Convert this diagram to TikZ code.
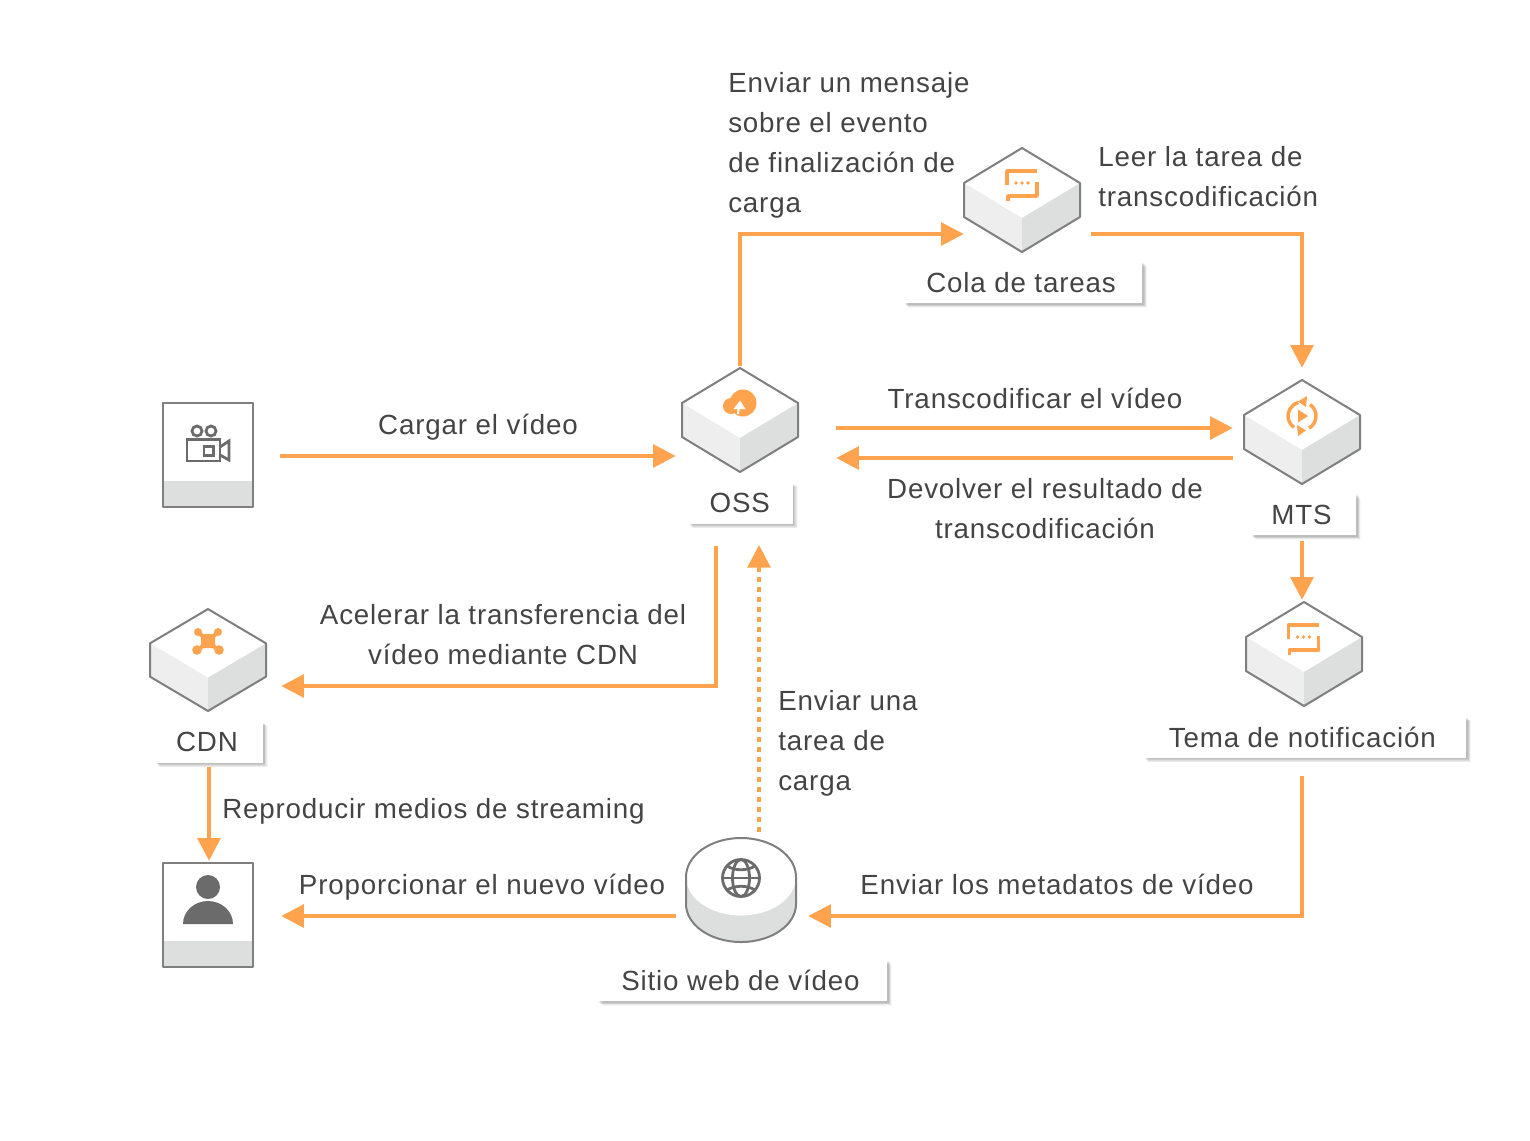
\documentclass[tikz,border=0pt]{standalone}
\usepackage{fontspec}
\setmainfont[LetterSpace=3]{Liberation Sans}
\usetikzlibrary{arrows.meta,calc,shadows}
\definecolor{flowc}{HTML}{FFA34F}
\definecolor{edgec}{HTML}{7F7F7F}
\definecolor{iconc}{HTML}{6B6B6B}
\definecolor{txtc}{HTML}{444444}
\definecolor{leftc}{HTML}{EEEEEE}
\definecolor{rightc}{HTML}{DDDFDE}
\newcommand\lblfont{\fontsize{20.8pt}{30pt}\selectfont}
\tikzset{
  x=0.75pt,y=-0.75pt,
  flow/.style={draw=flowc,line width=3pt,-{Triangle[length=17pt,width=17pt]}},
  flowdash/.style={flow,dash pattern=on 3.5pt off 4pt},
  txt/.style={font=\lblfont,text=txtc,inner sep=0pt},
  txtl/.style={txt,align=left,anchor=west},
  txtc/.style={txt,align=center},
  holder/.style={inner sep=0pt,draw=none,fill=none},
  outline/.style={draw=edgec,line width=1.5pt,line join=round},
  iconline/.style={draw=iconc,line width=2.1pt,line join=miter},
  orangeline/.style={draw=flowc,line width=2.6pt,line cap=round,line join=round},
  labelbox/.style={txt,fill=white,inner sep=0pt,
    drop shadow={shadow xshift=3.6pt,shadow yshift=-3.6pt,fill=black,opacity=.03},
    drop shadow={shadow xshift=3pt,shadow yshift=-3pt,fill=black,opacity=.05},
    drop shadow={shadow xshift=2.4pt,shadow yshift=-2.4pt,fill=black,opacity=.06},
    drop shadow={shadow xshift=1.8pt,shadow yshift=-1.8pt,fill=black,opacity=.07},
    drop shadow={shadow xshift=1.2pt,shadow yshift=-1.2pt,fill=black,opacity=.07}},
}
% cube: name, x, y (centre), vertical scale
\newcommand\cubeshape[4]{%
  \node[holder,minimum width=87pt,minimum height={78pt*#4}] (#1) at (#2,#3) {};
  \begin{scope}[shift={(#2,#3)},yscale=#4]
    \fill[leftc] (-58,-17)--(0,18)--(0,52)--(-58,17)--cycle;
    \fill[rightc] (58,-17)--(0,18)--(0,52)--(58,17)--cycle;
    \draw[outline] (0,-52)--(58,-17)--(58,17)--(0,52)--(-58,17)--(-58,-17)--cycle;
  \end{scope}}
\newcommand\chaticon[2]{%
  \begin{scope}[shift={(#1,#2)}]
    \draw[orangeline,line cap=butt] (-15,-15)--(-15,-29)--(15,-29);
    \draw[orangeline,line cap=butt] (15,-18)--(15,-4)--(-14,-4)--(-14,1);
    \fill[flowc] (-6,-17) circle[radius=1.9] (0,-17) circle[radius=1.9] (6,-17) circle[radius=1.9];
  \end{scope}}
\newcommand\cardshape[3]{%
  \node[holder,minimum width=67.5pt,minimum height=78pt] (#1) at (#2,#3) {};
  \begin{scope}[shift={(#2,#3)}]
    \fill[white] (-45,-52) rectangle (45,52);
    \fill[rightc] (-45,26) rectangle (45,52);
    \draw[outline] (-45,-52) rectangle (45,52);
  \end{scope}}
\begin{document}
\begin{tikzpicture}
\useasboundingbox (0,0) rectangle (1530,1140);
\fill[white] (0,0) rectangle (1530,1140);

% cards
\cardshape{video}{208}{455}
\draw[iconline] (197,431) circle[radius=5] (211,431) circle[radius=5];
\draw[iconline] (187,439.5) rectangle (220,461);
\draw[iconline] (204,446.5) rectangle (213.5,455.5);
\draw[iconline] (220,447)--(229,441)--(229,460)--(220,455);

\cardshape{person}{208}{915}
\fill[iconc] (208,887) circle[radius=12];
\fill[iconc] (183,924) arc[start angle=180,end angle=360,x radius=25,y radius=23]--cycle;

% cubes
\cubeshape{oss}{740}{420}{1}
\fill[flowc] (743,403) circle[radius=13.5] (731,406) circle[radius=8];
\draw[white,line width=1.6pt] (738,414)--(739,406);
\fill[white] (740,400.5)--(745.5,409)--(733.5,409)--cycle;

\cubeshape{queue}{1022}{200}{1}
\chaticon{1022}{200}

\cubeshape{mts}{1302}{432}{1}
\begin{scope}[shift={(1302,416)}]
  \draw[orangeline,line cap=butt] (-55:14) arc[start angle=-55,end angle=60,radius=14];
  \draw[orangeline,line cap=butt] (-105:14) arc[start angle=-105,end angle=-235,radius=14];
  \fill[flowc] (-4,-14.5)--(5,-20)--(4,-9)--cycle;
  \fill[flowc] (4,14.5)--(-5,9)--(-4,20)--cycle;
  \fill[flowc] (-4,-6.5)--(6,0)--(-4,6.5)--cycle;
\end{scope}

\cubeshape{topic}{1304}{654}{1}
\chaticon{1303.5}{654}

\cubeshape{cdn}{208}{660}{0.98}
\draw[flowc,line width=3pt] (198,632)--(218,650) (218,632)--(198,650);
\fill[flowc] (198,632) circle[radius=4] (218,632) circle[radius=4]
  (197,650) circle[radius=4.8] (219,650) circle[radius=4.8];
\fill[flowc,rounded corners=2pt] (201,634)--(215,634)--(215,648)--(201,648)--cycle;

% cylinder
\node[holder,minimum width=82.5pt,minimum height=78pt] (site) at (741,890) {};
\fill[rightc] (686,877)--(686,904) arc[start angle=180,end angle=0,x radius=55,y radius=38]--(796,877)--cycle;
\fill[white] (741,877) ellipse[x radius=55,y radius=38.5];
\draw[outline] (686,877) arc[start angle=180,end angle=360,x radius=55,y radius=39]--(796,904)
  arc[start angle=0,end angle=180,x radius=55,y radius=38]--cycle;
\begin{scope}[shift={(741,878)}]
  \draw[iconline] (0,0) circle[radius=18.5];
  \draw[iconline] (0,0) ellipse[x radius=8.5,y radius=18.5];
  \draw[iconline] (-18.5,0)--(18.5,0);
  \draw[iconline] (-14,-12) .. controls (-6,-7) and (6,-7) .. (14,-12);
  \draw[iconline] (-14,12) .. controls (-6,7) and (6,7) .. (14,12);
\end{scope}

% label boxes
\node[labelbox,minimum width=78.5pt,minimum height=31pt] (osslbl) at (740.5,503) {OSS\kern1pt};
\node[labelbox,minimum width=179pt,minimum height=31pt] (queuelbl) at (1023,282.5) {Cola de tareas\kern3pt};
\node[labelbox,minimum width=79pt,minimum height=31pt] (mtslbl) at (1303.5,514.5) {MTS\kern3pt};
\node[labelbox,minimum width=81pt,minimum height=31pt] (cdnlbl) at (209,742) {CDN\kern3pt};
\node[labelbox,minimum width=242pt,minimum height=31pt] (topiclbl) at (1305,737) {Tema de notificación\kern4pt};
\node[labelbox,minimum width=217pt,minimum height=31pt] (sitelbl) at (742.5,980.5) {Sitio web de vídeo\kern3pt};

% connectors
\draw[flow] ($(video.east)+(27,1)$) -- ($(oss.west)+(-6,36)$);
\draw[flow] ($(oss.north)+(0,-2)$) |- ($(queue.west)+(0,34)$);
\draw[flow] ($(queue.east)+(11,34)$) -| ($(mts.north)+(0,-12)$);
\draw[flow] ($(oss.east)+(38,8)$) -- ($(mts.west)+(-11,-4)$);
\draw[flow] ($(mts.west)+(-11,26)$) -- ($(oss.east)+(38,38)$);
\draw[flow] ($(mtslbl.south)+(-1.5,6)$) -- ($(topic.north)+(-2,-2)$);
\draw[flow] ($(topiclbl.south)+(-3,18)$) |- ($(site.east)+(12,26)$);
\draw[flow] ($(osslbl.south)+(-24.5,22)$) |- ($(cdn.east)+(15,26)$);
\draw[flowdash] ($(site.north)+(18,-6)$) -- ($(osslbl.south)+(18.5,21)$);
\draw[flow] ($(cdnlbl.south)+(0,4)$) -- ($(person.north)+(1,-2)$);
\draw[flow] ($(site.west)+(-10,26)$) -- ($(person.east)+(28,1)$);

% texts
\node[txtc] (t1) at (478,427) {Cargar el vídeo};
\node[txtl] (t2) at (728,145) {Enviar un mensaje\\sobre el evento\\de finalización de\\carga};
\node[txtl] (t3) at (1098,177) {Leer la tarea de\\transcodificación};
\node[txtc] (t4) at (1035,398.5) {Transcodificar el vídeo};
\node[txtc] (t5) at (1045,509) {Devolver el resultado de\\transcodificación};
\node[txtc] (t6) at (503,635) {Acelerar la transferencia del\\vídeo mediante CDN};
\node[txtl] (t7) at (778,743) {Enviar una\\tarea de\\carga};
\node[txtl] (t8) at (222,811) {Reproducir medios de streaming};
\node[txtc] (t9) at (482,887) {Proporcionar el nuevo vídeo};
\node[txtc] (t10) at (1057,884) {Enviar los metadatos de vídeo};
\end{tikzpicture}
\end{document}
